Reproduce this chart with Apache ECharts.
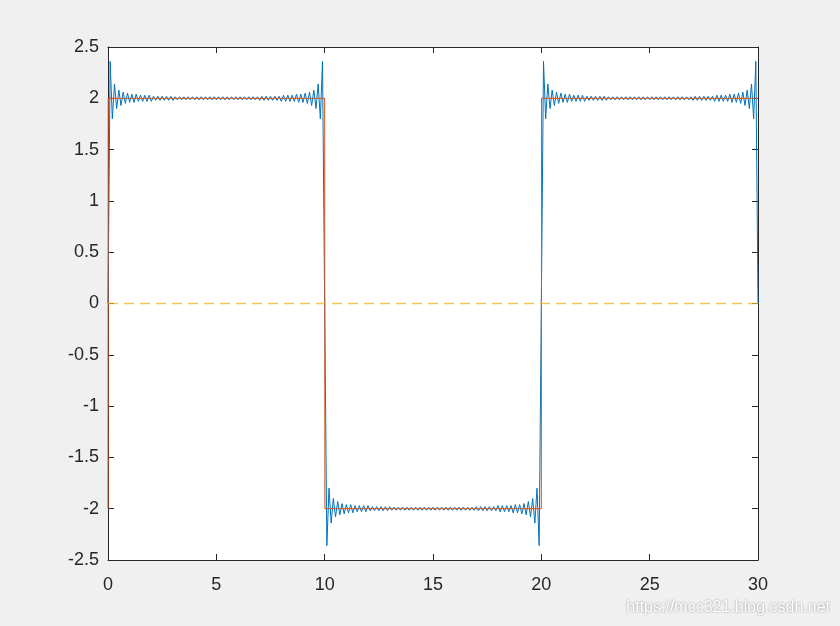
<!DOCTYPE html>
<html><head><meta charset="utf-8">
<script src="https://cdn.jsdelivr.net/npm/echarts/dist/echarts.min.js"></script>
<style>html,body{margin:0;padding:0;background:#F0F0F0}#c{width:840px;height:626px}</style>
</head><body><div id="c"></div>
<script>
// ---- data ----
const xMin = 0, xMax = 30, xStep = 5;
const yMin = -2.5, yMax = 2.5, yStep = 0.5;
// Fourier partial sum (blue), sampled every 0.1 starting at x = 0
const blueStart = 0, blueStep = 0.1;
const blueSeg0to10 = [
  0,
  2.36,1.80,2.14,1.90,2.08,1.93,2.06,1.95,2.05,1.96,
  2.04,1.96,2.04,1.97,2.03,1.97,2.03,1.97,2.03,1.97,
  2.02,1.98,2.02,1.98,2.02,1.98,2.02,1.98,2.02,1.98,
  2.015,1.985,2.015,1.985,2.015,1.985,2.015,1.985,2.015,1.985,
  2.015,1.985,2.015,1.985,2.015,1.985,2.015,1.985,2.015,1.985,
  2.015,1.985,2.015,1.985,2.015,1.985,2.015,1.985,2.015,1.985,
  2.015,1.985,2.015,1.985,2.015,1.985,2.015,1.985,2.015,1.98,
  2.02,1.98,2.02,1.98,2.02,1.98,2.02,1.98,2.02,1.97,
  2.03,1.97,2.03,1.97,2.03,1.97,2.04,1.96,2.04,1.96,
  2.05,1.95,2.06,1.93,2.08,1.90,2.14,1.80,2.36,0
];
const blueSeg10to20 = [
  -2.36,-1.80,-2.14,-1.90,-2.08,-1.93,-2.06,-1.95,-2.05,-1.96,
  -2.04,-1.96,-2.04,-1.97,-2.03,-1.97,-2.03,-1.97,-2.03,-1.97,
  -2.02,-1.98,-2.02,-1.98,-2.02,-1.98,-2.02,-1.98,-2.02,-1.98,
  -2.015,-1.985,-2.015,-1.985,-2.015,-1.985,-2.015,-1.985,-2.015,-1.985,
  -2.015,-1.985,-2.015,-1.985,-2.015,-1.985,-2.015,-1.985,-2.015,-1.985,
  -2.015,-1.985,-2.015,-1.985,-2.015,-1.985,-2.015,-1.985,-2.015,-1.985,
  -2.015,-1.985,-2.015,-1.985,-2.015,-1.985,-2.015,-1.985,-2.015,-1.98,
  -2.02,-1.98,-2.02,-1.98,-2.02,-1.98,-2.02,-1.98,-2.02,-1.97,
  -2.03,-1.97,-2.03,-1.97,-2.03,-1.97,-2.04,-1.96,-2.04,-1.96,
  -2.05,-1.95,-2.06,-1.93,-2.08,-1.90,-2.14,-1.80,-2.36,0
];
const blueSeg20to30 = [
  2.36,1.80,2.14,1.90,2.08,1.93,2.06,1.95,2.05,1.96,
  2.04,1.96,2.04,1.97,2.03,1.97,2.03,1.97,2.03,1.97,
  2.02,1.98,2.02,1.98,2.02,1.98,2.02,1.98,2.02,1.98,
  2.015,1.985,2.015,1.985,2.015,1.985,2.015,1.985,2.015,1.985,
  2.015,1.985,2.015,1.985,2.015,1.985,2.015,1.985,2.015,1.985,
  2.015,1.985,2.015,1.985,2.015,1.985,2.015,1.985,2.015,1.985,
  2.015,1.985,2.015,1.985,2.015,1.985,2.015,1.985,2.015,1.98,
  2.02,1.98,2.02,1.98,2.02,1.98,2.02,1.98,2.02,1.97,
  2.03,1.97,2.03,1.97,2.03,1.97,2.04,1.96,2.04,1.96,
  2.05,1.95,2.06,1.93,2.08,1.90,2.14,1.80,2.36,0
];
// ideal square wave (orange)
const squareX = [0, 0.01, 10, 10.01, 20, 20.01, 30];
const squareY = [-2, 2, 2, -2, -2, 2, 2];
// zero reference line (yellow dashed)
const zeroX = [0, 30];
const zeroY = [0, 0];
const watermark = 'https://mcc321.blog.csdn.net';

// ---- build ----
const blueY = blueSeg0to10.concat(blueSeg10to20, blueSeg20to30);
const blueData = blueY.map((y, i) => [blueStart + i * blueStep, y]);
const squareData = squareX.map((x, i) => [x, squareY[i]]);
const zeroData = zeroX.map((x, i) => [x, zeroY[i]]);

const AX = '#262626';
const FONT = 'Liberation Sans, Arial, Helvetica, sans-serif';
function xAx(pos, labels) {
  return {
    type: 'value', position: pos, min: xMin, max: xMax, interval: xStep,
    axisLine: { show: true, onZero: false, lineStyle: { color: AX, width: 1 } },
    axisTick: { show: true, inside: true, length: 6, lineStyle: { color: AX, width: 1 } },
    axisLabel: { show: labels, color: AX, fontSize: 18, fontFamily: FONT, margin: 16 },
    splitLine: { show: false }
  };
}
function yAx(pos, labels) {
  return {
    type: 'value', position: pos, min: yMin, max: yMax, interval: yStep,
    axisLine: { show: true, onZero: false, lineStyle: { color: AX, width: 1 } },
    axisTick: { show: true, inside: true, length: 6, lineStyle: { color: AX, width: 1 } },
    axisLabel: { show: labels, color: AX, fontSize: 18, fontFamily: FONT, margin: 9 },
    splitLine: { show: false }
  };
}
const chart = echarts.init(document.getElementById('c'), null, { renderer: 'canvas' });
chart.setOption({
  animation: false,
  backgroundColor: '#F0F0F0',
  grid: { left: 108, top: 47, width: 650, height: 513, show: true, backgroundColor: '#ffffff', borderWidth: 0 },
  xAxis: [xAx('bottom', true), xAx('top', false)],
  yAxis: [yAx('left', true), yAx('right', false)],
  series: [
    { type: 'line', data: blueData, showSymbol: false, symbol: 'none', lineStyle: { color: '#0072BD', width: 1 }, z: 2 },
    { type: 'line', data: squareData, showSymbol: false, symbol: 'none', lineStyle: { color: '#D95319', width: 1 }, z: 3 },
    { type: 'line', data: zeroData, showSymbol: false, symbol: 'none', lineStyle: { color: '#EDB120', width: 1.5, opacity: 0.75, type: [10, 6] }, z: 4 }
  ],
  graphic: [{
    type: 'text', right: 10, top: 600,
    style: { text: watermark, fill: '#ffffff', font: '16px ' + FONT, textShadowColor: 'rgba(0,0,0,0.45)', textShadowBlur: 2 }
  }]
});
</script>
</body></html>
